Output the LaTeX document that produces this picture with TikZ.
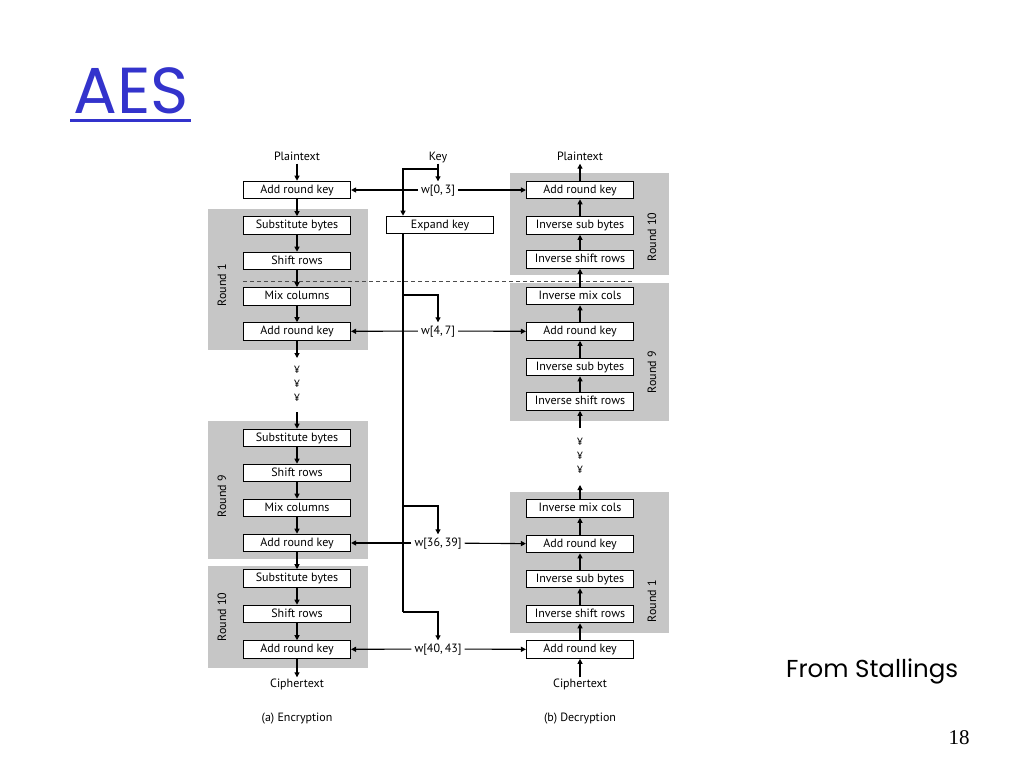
\documentclass[tikz,border=0pt]{standalone}
\usepackage{fontspec}
\setmainfont{PT Sans}
\newfontfamily\titlefont{Poppins}
\newfontfamily\pagefont{Liberation Serif}
\usetikzlibrary{arrows.meta}
\usetikzlibrary{calc}
\definecolor{roundgray}{RGB}{198,198,198}
\definecolor{titleblue}{RGB}{51,51,204}

\begin{document}
\begin{tikzpicture}[x=1pt,y=-1pt,
	stage/.style={draw,line width=1.1pt,fill=white,minimum width=107pt,minimum height=17.5pt,inner sep=0pt,text height=8.6pt,text depth=2.4pt,font=\fontsize{12}{14}\selectfont},
	lbl/.style={inner sep=1pt,text height=8.6pt,text depth=2.4pt,font=\fontsize{12}{14}\selectfont},
	wlbl/.style={inner sep=3pt,text height=8.6pt,text depth=2.4pt,font=\fontsize{12}{14}\selectfont},
	rndlbl/.style={rotate=90,inner sep=0pt,font=\fontsize{12}{14}\selectfont},
	dotlbl/.style={inner sep=0pt,font=\fontsize{10.5}{12}\selectfont},
	flow/.style={line width=1.1pt,-{Triangle[length=5pt,width=5pt]}},
	plain/.style={line width=1.1pt}]
	\useasboundingbox[fill=white] (0,0) rectangle (1024,768);

	% title, footer
	\node[anchor=base west,inner sep=0pt,text=titleblue,font=\titlefont\fontsize{65}{70}\selectfont] (title) at (73,113) {AES};
	\draw[titleblue,line width=3pt] ($(title.base west)+(-3,7)$) -- ($(title.base east)+(2,7)$);
	\node[anchor=base west,inner sep=0pt,font=\titlefont\fontsize{24.5}{28}\selectfont] (src) at (786,677) {From Stallings};
	\node[inner sep=0pt,font=\pagefont\fontsize{21}{24}\selectfont] (pg) at (959,738) {18};

	% round backgrounds
	\fill[roundgray] (208,209) rectangle (368,350);
	\fill[roundgray] (208,421) rectangle (368,559);
	\fill[roundgray] (208,566) rectangle (368,668);
	\fill[roundgray] (510,173) rectangle (669,275);
	\fill[roundgray] (510,283) rectangle (669,421);
	\fill[roundgray] (510,492) rectangle (669,633);

	\node[rndlbl] (r1e) at (222,285) {Round 1};
	\node[rndlbl] (r9e) at (222,496) {Round 9};
	\node[rndlbl] (r10e) at (222,617) {Round 10};
	\node[rndlbl] (r10d) at (652,237) {Round 10};
	\node[rndlbl] (r9d) at (652,372) {Round 9};
	\node[rndlbl] (r1d) at (652,601) {Round 1};

	\coordinate (dl) at (243,281);
	\coordinate (dr) at (634,281);
	\draw[black!70,line width=0.7pt,dash pattern=on 4pt off 3pt] (dl) -- (dr);

	% encryption
	\node[lbl] (pte) at (297,157) {Plaintext};
	\node[stage] (ark0) at (297,190) {Add round key};
	\node[stage] (sb1) at (297,225.5) {Substitute bytes};
	\node[stage] (sr1) at (297,261) {Shift rows};
	\node[stage] (mc1) at (297,296.5) {Mix columns};
	\node[stage] (ark1) at (297,331.5) {Add round key};
	\node[dotlbl] (de1) at (297,370) {¥};
	\node[dotlbl] (de2) at (297,384) {¥};
	\node[dotlbl] (de3) at (297,398) {¥};
	\coordinate (eb) at (297,358);
	\coordinate (et) at (297,412);
	\node[stage] (sb9) at (297,438) {Substitute bytes};
	\node[stage] (sr9) at (297,473) {Shift rows};
	\node[stage] (mc9) at (297,508) {Mix columns};
	\node[stage] (ark9) at (297,543) {Add round key};
	\node[stage] (sb10) at (297,578.5) {Substitute bytes};
	\node[stage] (sr10) at (297,614) {Shift rows};
	\node[stage] (ark10) at (297,649.5) {Add round key};
	\node[lbl] (cte) at (297,684) {Ciphertext};
	\node[lbl] (enc) at (297,718) {(a) Encryption};

	\draw[flow] (pte) -- (ark0);
	\draw[flow] (ark0) -- (sb1);
	\draw[flow] (sb1) -- (sr1);
	\draw[flow] (sr1) -- (mc1);
	\draw[flow] (mc1) -- (ark1);
	\draw[flow] (ark1) -- (eb);
	\draw[flow] (et) -- (sb9);
	\draw[flow] (sb9) -- (sr9);
	\draw[flow] (sr9) -- (mc9);
	\draw[flow] (mc9) -- (ark9);
	\draw[flow] (ark9) -- (sb10);
	\draw[flow] (sb10) -- (sr10);
	\draw[flow] (sr10) -- (ark10);
	\draw[flow] (ark10) -- (cte);

	% decryption
	\node[lbl] (ptd) at (580,157) {Plaintext};
	\node[stage] (iark10) at (580,190) {Add round key};
	\node[stage] (isb10) at (580,225.5) {Inverse sub bytes};
	\node[stage] (isr10) at (580,259.5) {Inverse shift rows};
	\node[stage] (imc9) at (580,296) {Inverse mix cols};
	\node[stage] (iark9) at (580,331.5) {Add round key};
	\node[stage] (isb9) at (580,367) {Inverse sub bytes};
	\node[stage] (isr9) at (580,401.5) {Inverse shift rows};
	\coordinate (dt) at (580,428);
	\node[dotlbl] (dd1) at (580,442) {¥};
	\node[dotlbl] (dd2) at (580,456) {¥};
	\node[dotlbl] (dd3) at (580,470) {¥};
	\coordinate (db) at (580,485);
	\node[stage] (imc1) at (580,508.5) {Inverse mix cols};
	\node[stage] (iark1) at (580,544) {Add round key};
	\node[stage] (isb1) at (580,579) {Inverse sub bytes};
	\node[stage] (isr1) at (580,614) {Inverse shift rows};
	\node[stage] (iark0) at (580,649.5) {Add round key};
	\node[lbl] (ctd) at (580,684) {Ciphertext};
	\node[lbl] (dec) at (580,718) {(b) Decryption};

	\draw[flow] (ctd) -- (iark0);
	\draw[flow] (iark0) -- (isr1);
	\draw[flow] (isr1) -- (isb1);
	\draw[flow] (isb1) -- (iark1);
	\draw[flow] (iark1) -- (imc1);
	\draw[flow] (imc1) -- (db);
	\draw[flow] (dt) -- (isr9);
	\draw[flow] (isr9) -- (isb9);
	\draw[flow] (isb9) -- (iark9);
	\draw[flow] (iark9) -- (imc9);
	\draw[flow] (imc9) -- (isr10);
	\draw[flow] (isr10) -- (isb10);
	\draw[flow] (isb10) -- (iark10);
	\draw[flow] (iark10) -- (ptd);

	% key schedule
	\node[lbl] (key) at (438,157) {Key};
	\node[stage] (xk) at (440,225) {Expand key};
	\node[wlbl] (w03) at (438,190) {w[0,\,3]};
	\node[wlbl] (w47) at (438,331) {w[4,\,7]};
	\node[wlbl] (w3639) at (438,543) {w[36,\,39]};
	\node[wlbl] (w4043) at (438,649) {w[40,\,43]};
	\coordinate (kb) at (438,169);
	\coordinate (tb47) at (403,295);
	\coordinate (tb3639) at (403,506);
	\coordinate (tb4043) at (403,612);

	\draw[flow] (key) -- (w03);
	\draw[flow] (kb) -| ([xshift=-37pt]xk.north);
	\draw[plain] ([xshift=-37pt]xk.south) -- (tb4043);
	\draw[flow] (tb47) -| (w47.north);
	\draw[flow] (tb3639) -| (w3639.north);
	\draw[flow] (tb4043) -| (w4043.north);

	\draw[flow] (w03) -- (ark0);
	\draw[flow] (w03) -- (iark10);
	\draw[flow] (w47) -- (ark1);
	\draw[flow] (w47) -- (iark9);
	\draw[flow] (w3639) -- (ark9);
	\draw[flow] (w3639) -- (iark1);
	\draw[flow] (w4043) -- (ark10);
	\draw[flow] (w4043) -- (iark0);
\end{tikzpicture}
\end{document}
